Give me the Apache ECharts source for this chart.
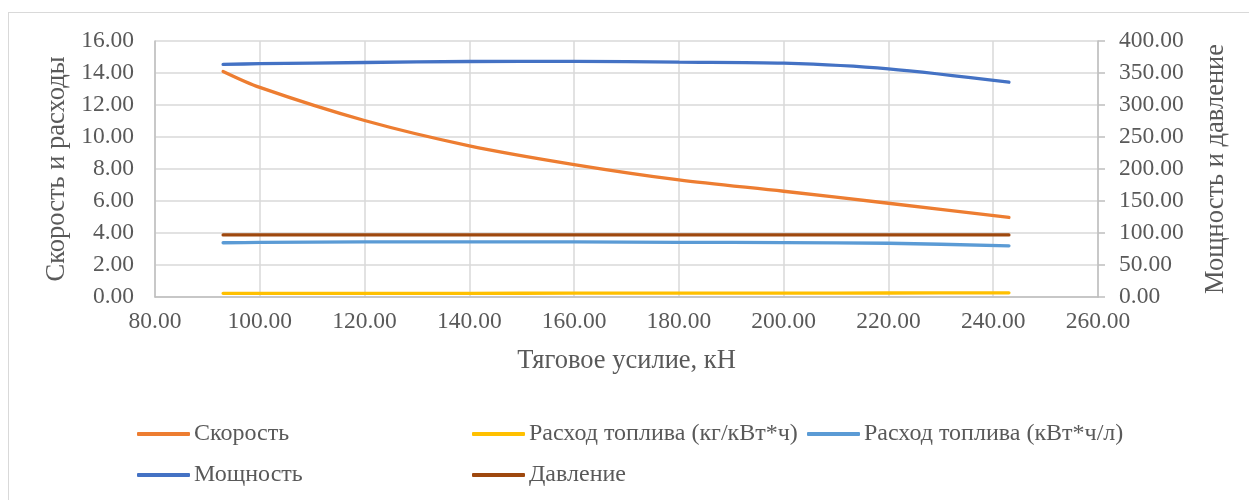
<!DOCTYPE html>
<html>
<head>
<meta charset="utf-8">
<script src="https://cdn.jsdelivr.net/npm/echarts@6/dist/echarts.min.js"></script>
<style>
html,body{margin:0;padding:0;background:#fff;}
#frame{position:absolute;left:8px;top:12px;width:1260px;height:500px;border:1px solid #d9d9d9;box-sizing:border-box;}
#chart{position:absolute;left:0;top:0;width:1249px;height:500px;}
</style>
</head>
<body>
<div id="frame"></div>
<div id="chart"></div>
<script>
// Data
var traction = [93, 100, 120, 140, 160, 180, 200, 220, 243];
var speed = [14.1, 13.1, 11.03, 9.45, 8.28, 7.32, 6.61, 5.86, 4.97];
var fuelKg = [0.23, 0.23, 0.23, 0.23, 0.24, 0.24, 0.24, 0.25, 0.26];
var fuelKwh = [3.39, 3.41, 3.44, 3.45, 3.44, 3.42, 3.40, 3.36, 3.20];
var power = [363.5, 364.5, 366.4, 368.0, 368.3, 366.9, 365.3, 356.5, 335.6];
var pressure = [97, 97, 97, 97, 97, 97, 97, 97, 97];
var names = ['Скорость', 'Расход топлива (кг/кВт*ч)', 'Расход топлива (кВт*ч/л)', 'Мощность', 'Давление'];
var colors = ['#ED7D31', '#FFC000', '#5B9BD5', '#4472C4', '#9E480E'];

function pairs(ys){ return traction.map(function(x,i){ return [x, ys[i]]; }); }
var FONT = '"Liberation Serif", "Times New Roman", serif';
var TXT = '#595959';

var chart = echarts.init(document.getElementById('chart'));
function mkSeries(i, ys, yIdx){
  return {name: names[i], type:'line', smooth:0.3, yAxisIndex:yIdx, data: pairs(ys),
    symbol:'none', lineStyle:{width:3.3, color:colors[i], cap:'round'}, itemStyle:{color:colors[i]}};
}
function mkLegend(i, left, top){
  return {data:[names[i]], left:left, top:top, icon:'roundRect', itemWidth:53, itemHeight:4, itemGap:0,
    padding:0,
    textStyle:{fontFamily:FONT, fontSize:24, color:TXT, padding:[0,0,0,-1]}, selectedMode:false};
}
var option = {
  animation:false,
  textStyle:{fontFamily:FONT},
  grid:{left:155, right:151, top:41, bottom:203},
  legend:[mkLegend(0,137,422), mkLegend(1,472,422), mkLegend(2,807,422), mkLegend(3,137,463), mkLegend(4,472,463)],
  xAxis:{type:'value', min:80, max:260, interval:20,
    name:'Тяговое усилие, кН', nameLocation:'middle', nameGap:51,
    nameTextStyle:{fontFamily:FONT, fontSize:26.5, color:TXT},
    axisLine:{show:true, onZero:false, lineStyle:{color:'#bfbfbf', width:1.5}},
    axisTick:{show:false},
    axisLabel:{fontFamily:FONT, fontSize:23.5, color:TXT, margin:13, formatter:function(v){return v.toFixed(2);}},
    splitLine:{show:true, lineStyle:{color:'#d9d9d9', width:1.5}}},
  yAxis:[
    {type:'value', min:0, max:16, interval:2,
     name:'Скорость и расходы', nameLocation:'middle', nameGap:79, nameRotate:90,
     nameTextStyle:{fontFamily:FONT, fontSize:26.5, color:TXT},
     axisLine:{show:true, lineStyle:{color:'#bfbfbf', width:1.5}},
     axisTick:{show:false},
     axisLabel:{fontFamily:FONT, fontSize:23.5, color:TXT, margin:21, formatter:function(v){return v.toFixed(2);}},
     splitLine:{show:true, lineStyle:{color:'#d9d9d9', width:1.5}}},
    {type:'value', min:0, max:400, interval:50, position:'right',
     name:'Мощность и давление', nameLocation:'middle', nameGap:105, nameRotate:90,
     nameTextStyle:{fontFamily:FONT, fontSize:26.5, color:TXT},
     axisLine:{show:true, lineStyle:{color:'#bfbfbf', width:1.5}},
     axisTick:{show:true, length:7, lineStyle:{color:'#bfbfbf', width:1.5}},
     axisLabel:{fontFamily:FONT, fontSize:23.5, color:TXT, margin:21, formatter:function(v){return v.toFixed(2);}},
     splitLine:{show:false}}
  ],
  series:[
    mkSeries(0, speed, 0),
    mkSeries(1, fuelKg, 0),
    mkSeries(2, fuelKwh, 0),
    mkSeries(3, power, 1),
    mkSeries(4, pressure, 1)
  ]
};
chart.setOption(option);
</script>
</body>
</html>
